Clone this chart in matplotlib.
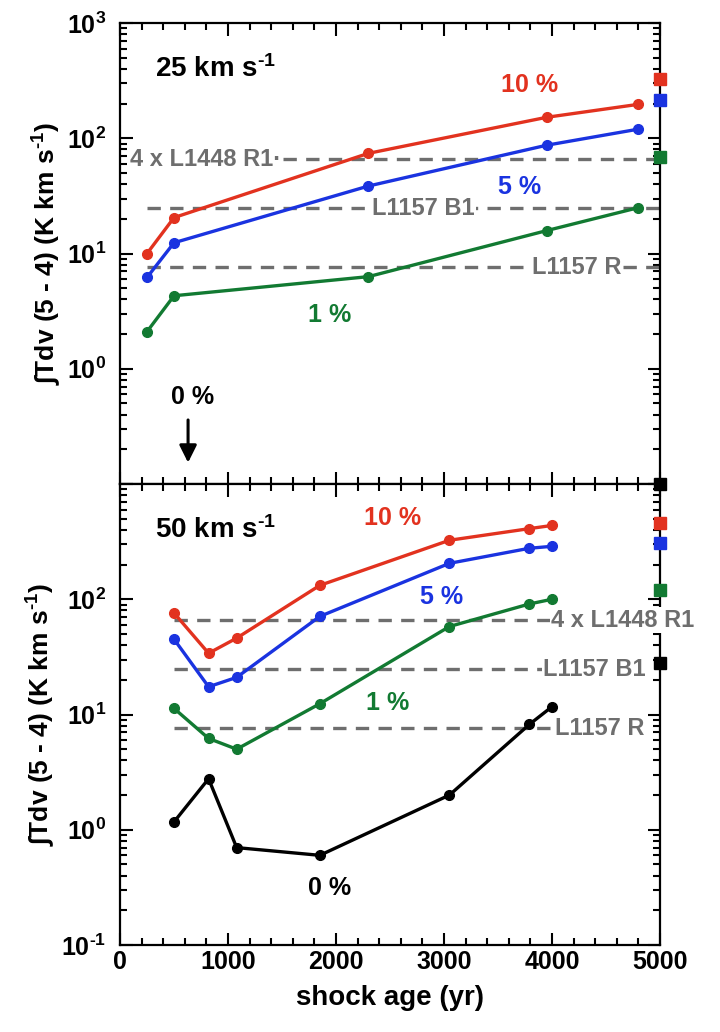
import math
import matplotlib
matplotlib.use('Agg')
import matplotlib.pyplot as plt
from matplotlib.ticker import LogLocator, FuncFormatter, MultipleLocator, NullFormatter

# ---- data ----
# 25 km/s panel
age25 = [250, 500, 2300, 3950, 4800]
c25_10 = [10.0, 20.5, 74, 152, 197]
c25_5 = [6.2, 12.4, 38.5, 87, 120]
c25_1 = [2.1, 4.3, 6.3, 15.8, 25]
sq25 = {'red': 325, 'blue': 213, 'green': 69}

# 50 km/s panel
age50 = [500, 820, 1080, 1850, 3050, 3790, 4000]
c50_10 = [76, 34, 46, 132, 325, 410, 437]
c50_5 = [45, 17.4, 21, 71, 205, 277, 288]
c50_1 = [11.3, 6.2, 5.0, 12.4, 58, 91, 100]
c50_0 = [1.17, 2.77, 0.70, 0.60, 2.0, 8.2, 11.7]
sq50 = {'red': 455, 'blue': 310, 'green': 120, 'black': 28}
sq_edge = 1000  # black square on the panel boundary

# observed reference levels
obs_names = ['4 x L1448 R1', 'L1157 B1', 'L1157 R']
obs_vals = [66, 24.6, 7.6]

RED = '#e2321f'
BLUE = '#1a33e0'
GREEN = '#127a32'
GRAY = '#6e6e6e'
cols = {'red': RED, 'blue': BLUE, 'green': GREEN, 'black': 'black'}

plt.rcParams['font.family'] = ['Liberation Sans', 'DejaVu Sans']
plt.rcParams['font.weight'] = 'bold'
plt.rcParams['mathtext.fontset'] = 'custom'
plt.rcParams['mathtext.rm'] = 'Liberation Sans:bold'
plt.rcParams['mathtext.bf'] = 'Liberation Sans:bold'
plt.rcParams['mathtext.it'] = 'Liberation Sans:bold'

fig = plt.figure(figsize=(7.2, 10.32), dpi=100)
ax1 = fig.add_axes([0.1667, 0.531, 0.75, 0.4467])
ax2 = fig.add_axes([0.1667, 0.0843, 0.75, 0.4467])

LW = 2.4
MS = 7
UNIT = r' km s$^{\text{-1}}$'


def style(ax, show_top, show_bottom):
    ax.set_yscale('log')
    ax.set_ylim(0.1, 1000)
    ax.set_xlim(0, 5000)
    for s in ax.spines.values():
        s.set_linewidth(1.6)
    ax.xaxis.set_major_locator(MultipleLocator(1000))
    ax.xaxis.set_minor_locator(MultipleLocator(200))
    ax.yaxis.set_major_locator(LogLocator(base=10, numticks=10))
    ax.yaxis.set_minor_locator(LogLocator(base=10, subs=range(2, 10), numticks=20))
    ax.yaxis.set_minor_formatter(NullFormatter())

    def fmt(v, pos):
        e = int(round(math.log10(v)))
        if (e == 3 and not show_top) or (e == -1 and not show_bottom):
            return ''
        return r'$\mathbf{10^{\text{%d}}}$' % e
    ax.yaxis.set_major_formatter(FuncFormatter(fmt))
    ax.tick_params(which='both', direction='in', top=True, right=True, width=1.5)
    ax.tick_params(which='major', length=9, labelsize=18)
    ax.tick_params(axis='y', which='major', pad=10)
    ax.tick_params(which='minor', length=5)
    ax.set_ylabel('∫Tdv (5 - 4) (K' + UNIT + ')', fontsize=19, fontweight='bold', labelpad=3)


style(ax1, True, False)
style(ax2, False, True)
ax1.tick_params(labelbottom=False)

lab = dict(color=GRAY, fontsize=17, fontweight='bold', va='center', zorder=5,
           bbox=dict(facecolor='white', edgecolor='none', pad=1))
pct = dict(fontsize=18, fontweight='bold', ha='center', va='center')

# ---- top panel: 25 km/s ----
for ys, c in [(c25_10, RED), (c25_5, BLUE), (c25_1, GREEN)]:
    ax1.plot(age25, ys, '-o', color=c, lw=LW, ms=MS, zorder=4)
for k, v in sq25.items():
    ax1.plot(5000, v, 's', color=cols[k], ms=8, clip_on=False, zorder=6)

ax1.hlines(obs_vals, 250, 5000, colors=GRAY, linestyles=(0, (4, 2.8)), lw=2.4, zorder=2)
ax1.text(90, obs_vals[0], obs_names[0] + '·', ha='left', **lab)
ax1.text(2810, obs_vals[1], obs_names[1], ha='center', **lab)
ax1.text(4230, obs_vals[2], obs_names[2], ha='center', **lab)

ax1.text(320, 400, '25' + UNIT, fontsize=20, fontweight='bold', va='center')
ax1.text(3790, 290, '10 %', color=RED, **pct)
ax1.text(3700, 37.6, '5 %', color=BLUE, **pct)
ax1.text(1940, 2.9, '1 %', color=GREEN, **pct)
ax1.text(670, 0.57, '0 %', color='black', **pct)
ax1.annotate('', xy=(630, 0.145), xytext=(630, 0.38),
             arrowprops=dict(arrowstyle='-|>', color='black', lw=2.2, mutation_scale=26))

# ---- bottom panel: 50 km/s ----
for ys, c in [(c50_10, RED), (c50_5, BLUE), (c50_1, GREEN), (c50_0, 'black')]:
    ax2.plot(age50, ys, '-o', color=c, lw=LW, ms=MS, zorder=4)
for k, v in sq50.items():
    ax2.plot(5000, v, 's', color=cols[k], ms=8, clip_on=False, zorder=6)
ax2.plot(5000, sq_edge, 's', color='black', ms=8, clip_on=False, zorder=6)

ax2.hlines(obs_vals, 500, [4000, 3930, 4040], colors=GRAY, linestyles=(0, (4, 2.8)), lw=2.4, zorder=2)
ax2.text(3990, obs_vals[0], obs_names[0], ha='left', **lab)
ax2.text(3920, obs_vals[1], obs_names[1], ha='left', **lab)
ax2.text(4030, obs_vals[2], obs_names[2], ha='left', **lab)

ax2.text(320, 400, '50' + UNIT, fontsize=20, fontweight='bold', va='center')
ax2.text(2520, 510, '10 %', color=RED, **pct)
ax2.text(2980, 104, '5 %', color=BLUE, **pct)
ax2.text(2480, 12.7, '1 %', color=GREEN, **pct)
ax2.text(1940, 0.31, '0 %', color='black', **pct)

ax2.set_xlabel('shock age (yr)', fontsize=20, fontweight='bold', labelpad=8)

fig.savefig('out.png', dpi=100)
